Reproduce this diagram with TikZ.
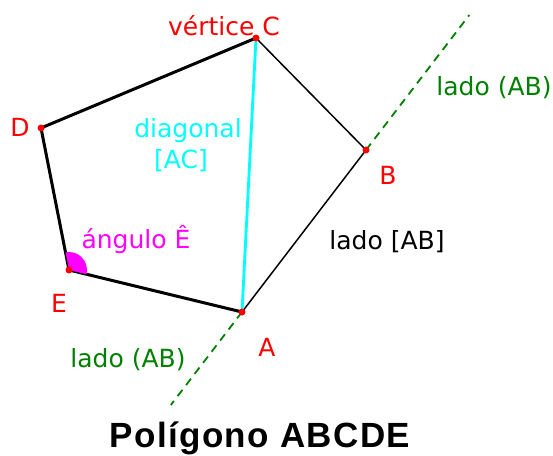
\documentclass[tikz,border=0pt]{standalone}
\usepackage{fontspec}
\setmainfont{DejaVu Sans}
\newfontfamily\titlefont[LetterSpace=4]{Liberation Sans}
\usetikzlibrary{calc}
\definecolor{vRed}{RGB}{255,0,0}
\definecolor{lGreen}{RGB}{0,128,0}
\definecolor{dCyan}{RGB}{0,255,255}
\definecolor{aMagenta}{RGB}{255,0,255}

\begin{document}
\begin{tikzpicture}[x=1pt, y=1pt,
    every node/.style={font=\fontsize{25}{30}\selectfont, inner sep=0pt, anchor=base},
    side/.style={line width=3pt, line join=round},
    thinside/.style={line width=1.5pt, line join=round},
    diag/.style={dCyan, line width=2.8pt},
    lineAB/.style={lGreen, line width=1.8pt, dash pattern=on 8pt off 6pt},
    vtxlabel/.style={vRed}]
    \useasboundingbox (0,0) rectangle (553,-455);
    % Vertices of the polygon
    \coordinate (A) at (242,-312);
    \coordinate (B) at (366,-150);
    \coordinate (C) at (256,-38);
    \coordinate (D) at (41,-128);
    \coordinate (E) at (69,-270);
    % Sides
    \draw[side] (C) -- (D) -- (E) -- (A);
    \draw[thinside] (C) -- (B) -- (A);
    % Diagonal [AC]
    \draw[diag] (C) -- (A);
    % Line (AB)
    \coordinate (ABtop) at ($(A)!1.833!(B)$);
    \coordinate (ABbot) at ($(A)!-0.574!(B)$);
    \draw[lineAB] (B) -- (ABtop);
    \draw[lineAB] (A) -- (ABbot);
    % Angle at E
    \fill[aMagenta] (E) -- ++(-13.65:18pt) arc[start angle=-13.65, end angle=101.15, radius=18pt] -- cycle;
    % Vertex dots
    \foreach \v in {A,B,C,D,E} {
      \fill[vRed] (\v) circle (3.5pt);
    }
    % Labels
    \node[vtxlabel] (lC) at (224,-35) {vértice C};
    \node[vtxlabel] (lD) at (20,-136) {D};
    \node[vtxlabel] (lB) at (388,-184) {B};
    \node[vtxlabel] (lE) at (59,-312) {E};
    \node[vtxlabel] (lA) at (267,-356) {A};
    \node[dCyan] (lDiag) at (188,-137) {diagonal};
    \node[dCyan] (lAC) at (181,-168) {[AC]};
    \node[aMagenta] (lAng) at (136,-248) {ángulo Ê};
    \node (lSide) at (387,-249) {lado [AB]};
    \node[lGreen] (lLineTop) at (494,-95) {lado (AB)};
    \node[lGreen] (lLineBot) at (128,-367) {lado (AB)};
    \node[font=\titlefont\bfseries\fontsize{35}{40}\selectfont] (title) at (260,-447) {Polígono ABCDE};
\end{tikzpicture}
\end{document}
